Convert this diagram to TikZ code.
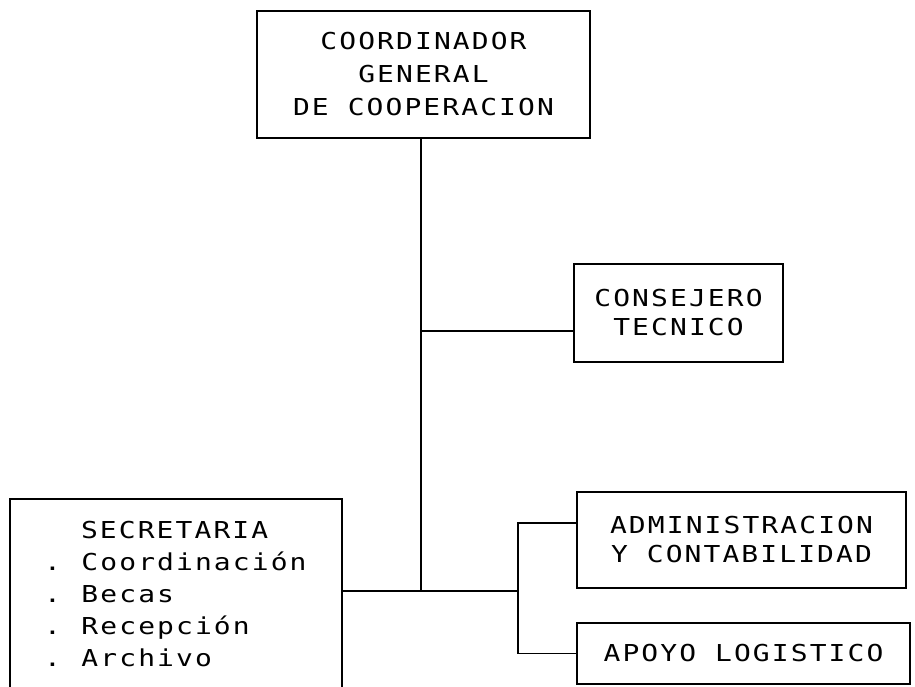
\documentclass[tikz,border=0pt]{standalone}
\usepackage{fontspec}
\newfontfamily\dm[FakeStretch=1.2,LetterSpace=9]{DejaVu Sans Mono}
\newcommand{\itm}{.\hspace{9pt} }
\begin{document}
\begin{tikzpicture}[x=1pt,y=-1pt,
  every node/.style={font=\dm\fontsize{23.3}{33}\selectfont},
  box/.style={draw,line width=1.9pt,rectangle,inner sep=0pt,align=center},
  conn/.style={line width=1.9pt}]
\useasboundingbox (0,0) rectangle (915,686);
\clip (0,0) rectangle (915,686);
\node[box,minimum width=333pt,minimum height=127pt] (top) at (423.5,74.5)
  {COORDINADOR\\GENERAL\\DE COOPERACION};
\node[box,minimum width=209pt,minimum height=98pt,font=\dm\fontsize{23.3}{29}\selectfont] (cons) at (678.5,313)
  {CONSEJERO\\TECNICO};
\node[box,minimum width=329pt,minimum height=96pt,font=\dm\fontsize{23.3}{29}\selectfont] (adm) at (741.5,540)
  {ADMINISTRACION\\Y CONTABILIDAD};
\node[box,minimum width=333pt,minimum height=61pt] (apo) at (743.5,653.5)
  {APOYO LOGISTICO};
\node[box,align=left,text width=264pt,inner xsep=34pt,minimum height=190pt,font=\dm\fontsize{23.3}{32}\selectfont] (sec) at (176,594)
  {\hspace*{37pt}SECRETARIA\\\itm Coordinación\\\itm Becas\\\itm Recepción\\\itm Archivo};
\coordinate (jc) at (421,331);
\coordinate (js) at (421,591);
\coordinate (bk) at (518,591);
\coordinate (ba) at (518,523);
\draw[conn] (js |- top.south) -- (js);
\draw[conn] (jc) -- (jc -| cons.west);
\draw[conn] (sec.east |- js) -- (bk);
\draw[conn] (ba -| adm.west) -- (ba) -- (bk |- apo.west) -- (apo.west);
\end{tikzpicture}
\end{document}
